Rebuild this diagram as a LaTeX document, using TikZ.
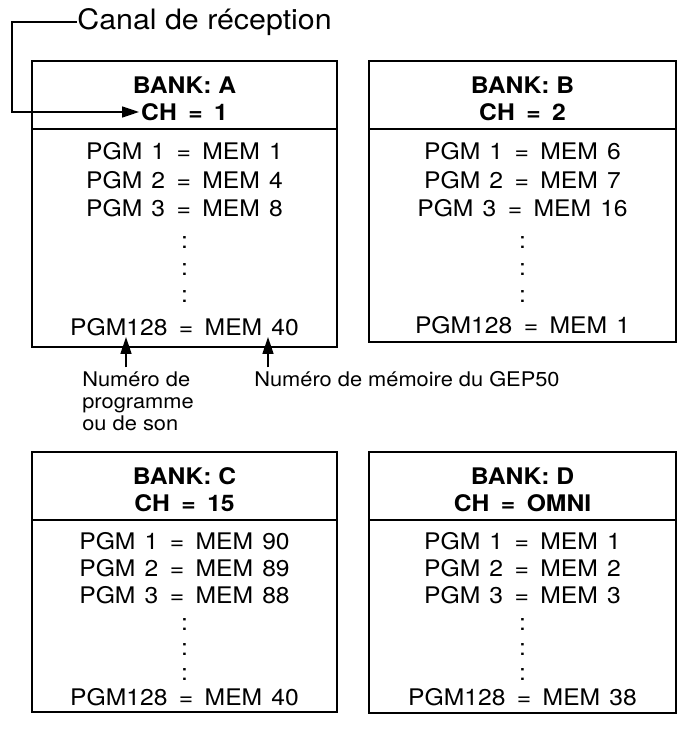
\documentclass[tikz,border=0pt]{standalone}
\usepackage{fontspec}
\setmainfont{TeX Gyre Heros}[FakeStretch=1.08]
\usetikzlibrary{arrows.meta}
\newcommand{\eqs}{\hspace{.5em}=\hspace{.5em}}
\newcommand{\pgap}{\hspace{.4em}}

\begin{document}
\begin{tikzpicture}[
  x=0.02cm,
  y=-0.02cm,
  frame/.style={
    line width=0.9pt
  },
  banktitle/.style={
    inner sep=0pt,
    font=\bfseries\fontsize{13}{15}\selectfont
  },
  entry/.style={
    inner sep=0pt,
    font=\fontsize{13}{15}\selectfont
  },
  note/.style={
    inner sep=0pt,
    align=left,
    font=\fontsize{11.5}{12.6}\selectfont
  },
  caption/.style={
    inner sep=0pt,
    font=\fontsize{16}{18}\selectfont
  },
  pointer/.style={
    -{Triangle[length=3.4mm,width=2.2mm]},
    line width=0.8pt
  }
]

\path[use as bounding box] (0,0) rectangle (684,736);

\draw[frame] (32,61) rectangle (337,347);
\draw[frame] (32,129) -- (337,129);
\draw[frame] (369,61) rectangle (676,342);
\draw[frame] (369,129) -- (676,129);
\draw[frame] (32,452) rectangle (337,712);
\draw[frame] (32,520) -- (337,520);
\draw[frame] (369,452) rectangle (676,713);
\draw[frame] (369,520) -- (676,520);

\node[caption, anchor=west] (canal) at (77,22) {Canal de réception};
\coordinate (bend) at (12,22);

\node[banktitle] (bankA) at (184.5,85) {BANK: A};
\node[banktitle] (chA) at (184.5,112) {CH\eqs 1};
\node[entry] (a1) at (184.5,151) {PGM\pgap 1\eqs MEM\pgap 1};
\node[entry] (a2) at (184.5,180) {PGM\pgap 2\eqs MEM\pgap 4};
\node[entry] (a3) at (184.5,208) {PGM\pgap 3\eqs MEM\pgap 8};
\node[entry] (adot1) at (184.5,243) {:};
\node[entry] (adot2) at (184.5,270) {:};
\node[entry] (adot3) at (184.5,297) {:};
\node[entry] (alast) at (184.5,327) {PGM128\eqs MEM\pgap 40};

\node[banktitle] (bankB) at (522.5,85) {BANK: B};
\node[banktitle] (chB) at (522.5,112) {CH\eqs 2};
\node[entry] (b1) at (522.5,151) {PGM\pgap 1\eqs MEM\pgap 6};
\node[entry] (b2) at (522.5,180) {PGM\pgap 2\eqs MEM\pgap 7};
\node[entry] (b3) at (522.5,208) {PGM\pgap 3\eqs MEM\pgap 16};
\node[entry] (bdot1) at (522.5,243) {:};
\node[entry] (bdot2) at (522.5,270) {:};
\node[entry] (bdot3) at (522.5,297) {:};
\node[entry] (blast) at (522.5,325) {PGM128\eqs MEM\pgap 1};

\node[banktitle] (bankC) at (184.5,476) {BANK: C};
\node[banktitle] (chC) at (184.5,503) {CH\eqs 15};
\node[entry] (c1) at (184.5,541) {PGM\pgap 1\eqs MEM\pgap 90};
\node[entry] (c2) at (184.5,568) {PGM\pgap 2\eqs MEM\pgap 89};
\node[entry] (c3) at (184.5,595) {PGM\pgap 3\eqs MEM\pgap 88};
\node[entry] (cdot1) at (184.5,625) {:};
\node[entry] (cdot2) at (184.5,650) {:};
\node[entry] (cdot3) at (184.5,675) {:};
\node[entry] (clast) at (184.5,697) {PGM128\eqs MEM\pgap 40};

\node[banktitle] (bankD) at (522.5,476) {BANK: D};
\node[banktitle] (chD) at (522.5,503) {CH\eqs OMNI};
\node[entry] (d1) at (522.5,541) {PGM\pgap 1\eqs MEM\pgap 1};
\node[entry] (d2) at (522.5,568) {PGM\pgap 2\eqs MEM\pgap 2};
\node[entry] (d3) at (522.5,595) {PGM\pgap 3\eqs MEM\pgap 3};
\node[entry] (ddot1) at (522.5,625) {:};
\node[entry] (ddot2) at (522.5,650) {:};
\node[entry] (ddot3) at (522.5,675) {:};
\node[entry] (dlast) at (522.5,697) {PGM128\eqs MEM\pgap 38};

\node[note, anchor=north west] (lblprog) at (82,371)
  {Numéro de\\programme\\ou de son};
\node[note, anchor=north west] (lblmem) at (254,371)
  {Numéro de mémoire du GEP50};
\coordinate (tipprog) at (126,337);
\coordinate (tipmem) at (268,337);

\draw[pointer] (canal.west) -- (bend) |- ([xshift=-1pt]chA.west);
\draw[pointer] ([yshift=2pt]lblprog.north -| tipprog) -- (tipprog);
\draw[pointer] ([yshift=2pt]lblmem.north -| tipmem) -- (tipmem);

\end{tikzpicture}
\end{document}
